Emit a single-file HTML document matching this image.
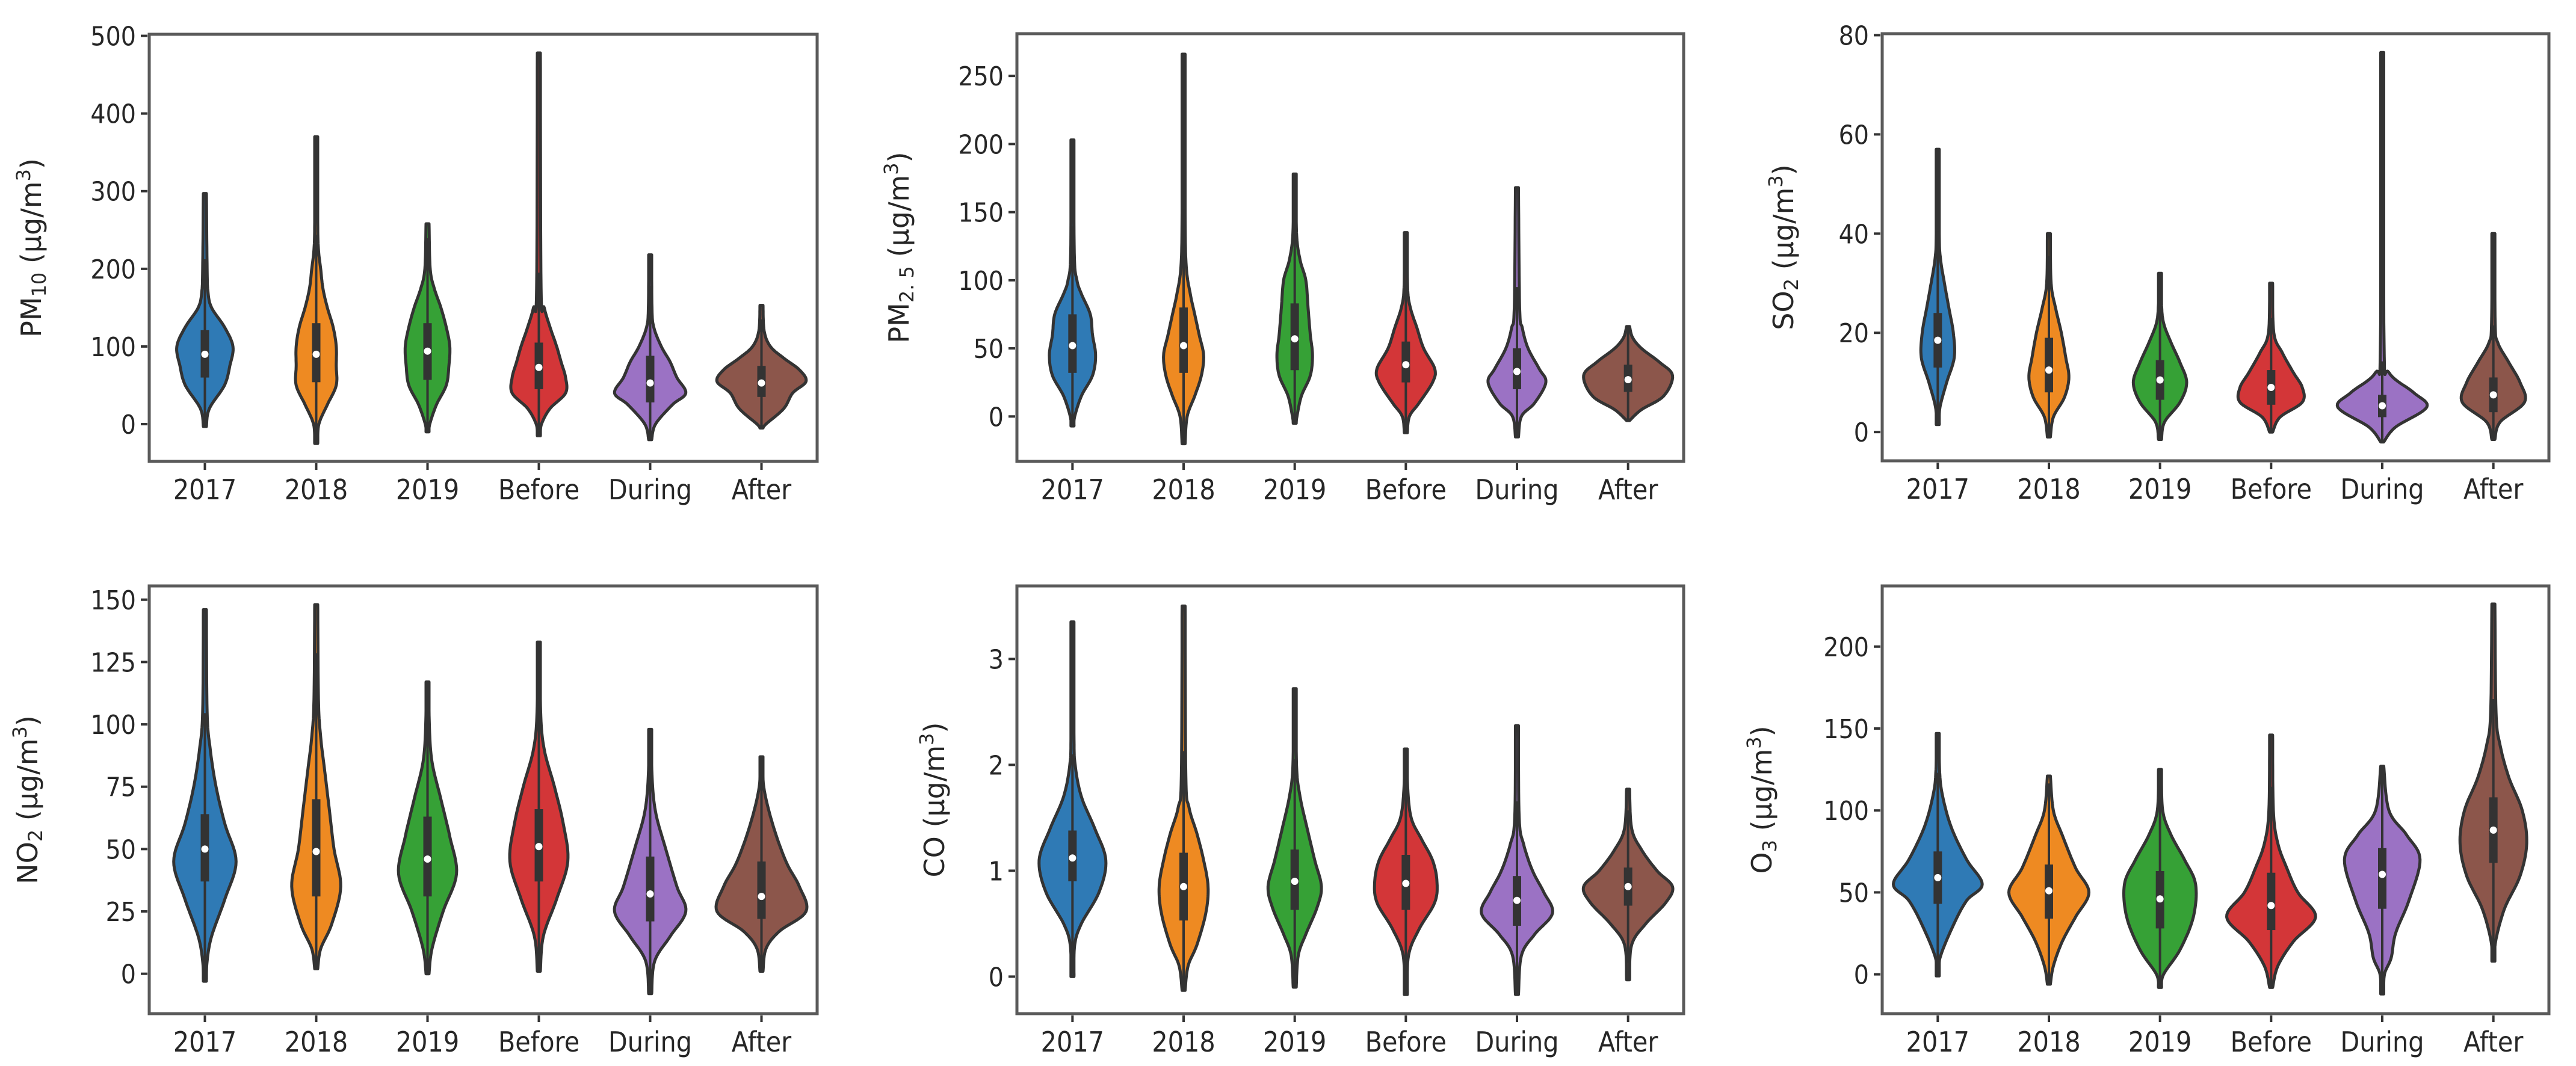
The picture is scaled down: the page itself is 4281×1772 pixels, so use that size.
<!DOCTYPE html>
<html><head><meta charset="utf-8">
<style>
html,body{margin:0;padding:0;background:#fff;}
svg{display:block;}
text{font-family:"DejaVu Sans","Liberation Sans",sans-serif;fill:#262626;}
</style></head>
<body>
<svg id="fig" width="4281" height="1772" viewBox="0 0 4281 1772" xmlns="http://www.w3.org/2000/svg"></svg>
<script>
const categories = ["2017","2018","2019","Before","During","After"];
const colors = ["#2f7ab5","#ee8a22","#36a136","#d33638","#9b72c4","#8c564b"];

// Density profiles per violin: [value, relative half-width]
const pm10Shapes = [
 [[-3,0],[20,.1],[50,.44],[75,.56],[100,.63],[125,.44],[150,.15],[170,.07],[200,.05],[297,0]],
 [[-25,0],[0,.06],[25,.25],[50,.45],[75,.45],[100,.45],[125,.38],[150,.25],[175,.15],[200,.1],[225,.05],[260,.03],[370,0]],
 [[-10,0],[0,.05],[25,.2],[50,.42],[75,.48],[100,.5],[125,.42],[150,.3],[175,.15],[200,.06],[258,0]],
 [[-15,0],[0,.06],[20,.25],[40,.6],[60,.6],[80,.5],[100,.4],[125,.25],[150,.12],[175,.05],[478,0]],
 [[-20,0],[0,.12],[25,.5],[40,.8],[60,.6],[80,.45],[100,.25],[125,.08],[150,.04],[218,0]],
 [[-5,0],[0,.1],[20,.5],[40,.7],[55,1],[70,.85],[85,.5],[100,.2],[120,.06],[153,0]]];
const pm10Box = [[60,90,121],[54,90,130],[57,94,130],[45,73,105],[28,53,88],[35,53,75]];

const pm25Shapes = [
 [[-7,0],[0,.05],[15,.2],[30,.45],[45,.52],[60,.45],[75,.4],[90,.2],[100,.1],[120,.04],[203,0]],
 [[-20,0],[0,.08],[15,.25],[30,.4],[45,.45],[60,.35],[75,.25],[90,.15],[110,.06],[150,.03],[266,0]],
 [[-5,0],[0,.05],[15,.15],[30,.35],[45,.4],[60,.35],[80,.3],[100,.25],[115,.12],[135,.04],[178,0]],
 [[-12,0],[0,.08],[10,.3],[25,.6],[35,.65],[50,.4],[65,.25],[80,.1],[95,.04],[135,0]],
 [[-15,0],[0,.1],[10,.4],[25,.65],[35,.5],[50,.25],[65,.12],[80,.06],[168,0]],
 [[-3,0],[5,.3],[15,.8],[30,1],[40,.7],[50,.3],[58,.1],[66,0]]];
const pm25Box = [[32,52,75],[32,52,80],[34,57,83],[25,38,55],[20,33,50],[18,27,38]];

const so2Shapes = [
 [[1.5,0],[5,.05],[10,.2],[15,.37],[20,.35],[25,.25],[30,.15],[35,.06],[40,.03],[57,0]],
 [[-1,0],[3,.1],[7,.35],[11,.45],[15,.38],[20,.28],[25,.15],[30,.05],[40,0]],
 [[-1.5,0],[2,.1],[6,.45],[10,.6],[14,.45],[18,.25],[22,.08],[26,.03],[32,0]],
 [[0,0],[3,.2],[6,.7],[9,.7],[12,.5],[16,.25],[20,.06],[30,0]],
 [[-2,0],[1,.3],[5,1],[8,.7],[12,.15],[18,.04],[76.5,0]],
 [[-1.5,0],[2,.15],[6,.7],[10,.6],[14,.35],[18,.1],[22,.04],[40,0]]];
const so2Box = [[13,18.5,24],[8,12.5,19],[6.5,10.5,14.5],[5.5,9,12.5],[3,5.3,7.5],[4,7.5,11]];

const no2Shapes = [
 [[-3,0],[5,.05],[15,.15],[30,.45],[45,.7],[60,.45],[75,.25],[90,.12],[105,.05],[146,0]],
 [[2,0],[10,.1],[20,.35],[35,.55],[50,.4],[65,.3],[80,.2],[95,.1],[110,.05],[148,0]],
 [[0,0],[10,.1],[25,.35],[40,.65],[55,.5],[70,.3],[85,.1],[100,.04],[117,0]],
 [[1,0],[15,.1],[30,.4],[45,.65],[60,.55],[75,.35],[90,.12],[105,.04],[133,0]],
 [[-8,0],[5,.1],[15,.45],[25,.8],[35,.6],[50,.35],[65,.12],[80,.04],[98,0]],
 [[1,0],[10,.1],[17,.4],[25,1],[35,.85],[45,.55],[60,.25],[75,.05],[87,0]]];
const no2Box = [[37,50,64],[31,49,70],[31,46,63],[37,51,66],[21,32,47],[22,31,45]];

const coShapes = [
 [[0,0],[.3,.05],[.5,.2],[.8,.6],[1.1,.75],[1.4,.5],[1.7,.2],[2.0,.06],[2.3,.03],[3.35,0]],
 [[-.13,0],[.1,.1],[.3,.3],[.6,.5],[.85,.55],[1.1,.45],[1.35,.3],[1.6,.12],[1.9,.05],[3.5,0]],
 [[-.1,0],[.2,.08],[.4,.25],[.65,.5],[.85,.6],[1.1,.45],[1.4,.28],[1.7,.12],[2.0,.04],[2.72,0]],
 [[-.17,0],[.2,.06],[.45,.3],[.7,.65],[.9,.7],[1.1,.6],[1.3,.35],[1.5,.12],[1.8,.04],[2.15,0]],
 [[-.17,0],[.2,.1],[.4,.4],[.6,.8],[.8,.6],[1.0,.35],[1.25,.15],[1.5,.05],[2.37,0]],
 [[-.03,0],[.3,.08],[.5,.4],[.7,.85],[.85,1],[1.0,.65],[1.2,.3],[1.4,.08],[1.77,0]]];
const coBox = [[.9,1.12,1.38],[.53,.85,1.17],[.63,.9,1.2],[.63,.88,1.15],[.48,.72,.95],[.67,.85,1.03]];

const o3Shapes = [
 [[-1,0],[10,.05],[30,.35],[45,.65],[55,1],[70,.65],[90,.3],[110,.1],[125,.04],[147,0]],
 [[-6,0],[5,.1],[20,.3],[35,.6],[50,.9],[65,.6],[85,.3],[100,.1],[121,0]],
 [[-8,0],[0,.08],[15,.45],[35,.75],[55,.8],[70,.55],[85,.25],[100,.06],[125,0]],
 [[-8,0],[5,.15],[20,.5],[35,1],[50,.6],[65,.35],[80,.15],[100,.05],[146,0]],
 [[-12,0],[0,.05],[10,.2],[25,.3],[45,.6],[70,.85],[85,.55],[100,.15],[127,0]],
 [[8,0],[20,.05],[40,.25],[60,.6],[80,.75],[100,.65],[120,.35],[140,.15],[160,.06],[226,0]]];
const o3Box = [[43,59,75],[34,51,67],[28,46,63],[27,42,62],[40,61,77],[68,88,108]];

const pm10Ticks=[0,100,200,300,400,500], pm25Ticks=[0,50,100,150,200,250], so2Ticks=[0,20,40,60,80],
      no2Ticks=[0,25,50,75,100,125,150], coTicks=[0,1,2,3], o3Ticks=[0,50,100,150,200];

const panels = [
 {id:"pm10",x0:248,x1:1358,y0:57,y1:767,ylim:[-48,502],ticks:pm10Ticks,shapes:pm10Shapes,box:pm10Box,lx:52,lab:["PM","10"]},
 {id:"pm25",x0:1690,x1:2798,y0:56,y1:767,ylim:[-33,281],ticks:pm25Ticks,shapes:pm25Shapes,box:pm25Box,lx:1494,lab:["PM","2. 5"]},
 {id:"so2",x0:3128,x1:4236,y0:56,y1:766,ylim:[-5.8,80.3],ticks:so2Ticks,shapes:so2Shapes,box:so2Box,lx:2964,lab:["SO","2"]},
 {id:"no2",x0:248,x1:1358,y0:974,y1:1685,ylim:[-16,155.5],ticks:no2Ticks,shapes:no2Shapes,box:no2Box,lx:46,lab:["NO","2"]},
 {id:"co",x0:1690,x1:2798,y0:974,y1:1685,ylim:[-0.35,3.69],ticks:coTicks,shapes:coShapes,box:coBox,lx:1553,lab:["CO",""]},
 {id:"o3",x0:3128,x1:4236,y0:974,y1:1685,ylim:[-24,237],ticks:o3Ticks,shapes:o3Shapes,box:o3Box,lx:2928,lab:["O","3"]}];

const NS="http://www.w3.org/2000/svg";
const svg=document.getElementById('fig');
function mk(tag,attrs,parent){const e=document.createElementNS(NS,tag);for(const k in attrs)e.setAttribute(k,attrs[k]);(parent||svg).appendChild(e);return e;}

panels.forEach(p=>{
  const g=mk('g',{});
  
  
  const y=v=>p.y1-(v-p.ylim[0])/(p.ylim[1]-p.ylim[0])*(p.y1-p.y0);
  const bw=(p.x1-p.x0)/categories.length;
  const x=i=>p.x0+bw*(i+0.5);
  const maxHW=bw*0.4;
  p.shapes.forEach((sh,i)=>{
    const cx=x(i);
    const pts=sh.map(d=>[y(d[0]),Math.max(d[1]*maxHW,2.5)]);
    const samp=[];
    for(let k=0;k<pts.length-1;k++){
      const p0=pts[Math.max(k-1,0)],p1=pts[k],p2=pts[k+1],p3=pts[Math.min(k+2,pts.length-1)];
      for(let t=0;t<1;t+=0.1){
        const t2=t*t,t3=t2*t;
        const f=(a,b,c,d)=>0.5*((2*b)+(-a+c)*t+(2*a-5*b+4*c-d)*t2+(-a+3*b-3*c+d)*t3);
        samp.push([f(p0[0],p1[0],p2[0],p3[0]),Math.max(f(p0[1],p1[1],p2[1],p3[1]),2.5)]);
      }
    }
    samp.push(pts[pts.length-1]);
    let d='M'+samp.map(s=>(cx-s[1]).toFixed(1)+','+s[0].toFixed(1)).join(' L');
    d+=' L'+samp.slice().reverse().map(s=>(cx+s[1]).toFixed(1)+','+s[0].toFixed(1)).join(' L')+' Z';
    const v=mk('path',{d:d,fill:colors[i],stroke:'#333',"stroke-width":5,"stroke-linejoin":"round"},g);
    
    
    const b=p.box[i];
    const iqr=b[2]-b[0];
    const lo=Math.max(b[0]-1.5*iqr,sh[0][0]), hi=Math.min(b[2]+1.5*iqr,sh[sh.length-1][0]);
    const wl=mk('line',{x1:cx,x2:cx,y1:y(lo),y2:y(hi),stroke:'#333',"stroke-width":4},g);
    
    
    const bx=mk('rect',{x:cx-7,y:y(b[2]),width:14,height:y(b[0])-y(b[2]),fill:'#333'},g);
    
    
    const md=mk('circle',{cx:cx,cy:y(b[1]),r:6,fill:'#fff'},g);
    
    
  });
  const fr=mk('rect',{x:p.x0,y:p.y0,width:p.x1-p.x0,height:p.y1-p.y0,fill:'none',stroke:'#5a5a5a',"stroke-width":5},g);
  
  
  p.ticks.forEach(t=>{
    const yy=y(t);
    const tl=mk('line',{x1:p.x0-14,x2:p.x0-3,y1:yy,y2:yy,stroke:'#333',"stroke-width":4},g);
    
    
    const tx=mk('text',{x:p.x0-22,y:yy+16,"text-anchor":"end","font-size":44,transform:`translate(${p.x0-22},0) scale(0.9,1) translate(${-(p.x0-22)},0)`},g);
    tx.textContent=String(t);
    
    
  });
  categories.forEach((c,i)=>{
    const xx=x(i);
    const tl=mk('line',{x1:xx,x2:xx,y1:p.y1+3,y2:p.y1+14,stroke:'#333',"stroke-width":4},g);
    
    
    const tx=mk('text',{x:xx,y:p.y1+63,"text-anchor":"middle","font-size":46,transform:`translate(${xx},0) scale(0.9,1) translate(${-xx},0)`},g);
    tx.textContent=c;
    
    
  });
  const cy=(p.y0+p.y1)/2;
  const lab=mk('text',{x:0,y:0,"text-anchor":"middle","font-size":46,transform:`translate(${p.lx+16},${cy}) rotate(-90)`},g);
  
  
  const t1=mk('tspan',{},lab); t1.textContent=p.lab[0];
  if(p.lab[1]){const t2=mk('tspan',{"font-size":32,dy:8},lab); t2.textContent=p.lab[1];
    const t3=mk('tspan',{dy:-8},lab); t3.textContent=' (μg/m';}
  else {const t3=mk('tspan',{},lab); t3.textContent=' (μg/m';}
  const t4=mk('tspan',{"font-size":32,dy:-18},lab); t4.textContent='3';
  const t5=mk('tspan',{dy:18},lab); t5.textContent=')';
});
</script>
</body></html>
